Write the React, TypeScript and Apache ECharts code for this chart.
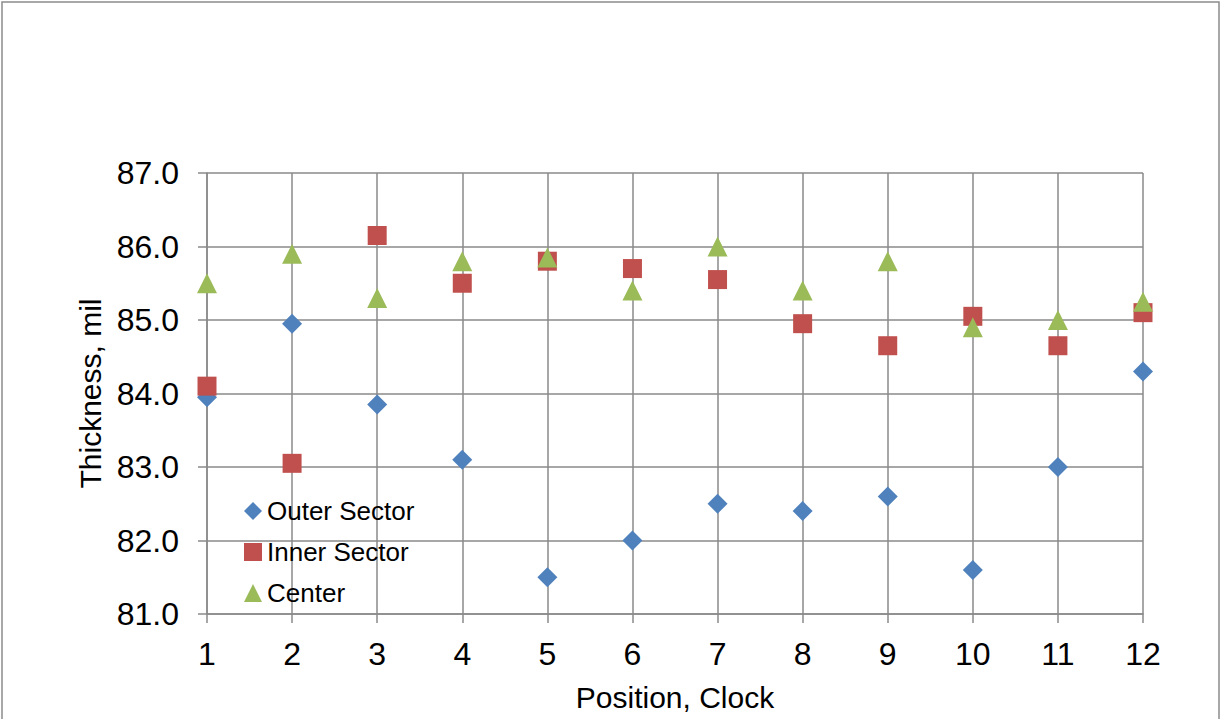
import React, { useEffect, useRef } from "react";
import * as echarts from "echarts";

const positions = [1, 2, 3, 4, 5, 6, 7, 8, 9, 10, 11, 12];
const outerSector = [83.95, 84.95, 83.85, 83.1, 81.5, 82.0, 82.5, 82.4, 82.6, 81.6, 83.0, 84.3];
const innerSector = [84.1, 83.05, 86.15, 85.5, 85.8, 85.7, 85.55, 84.95, 84.65, 85.05, 84.65, 85.1];
const center = [85.5, 85.9, 85.3, 85.8, 85.85, 85.4, 86.0, 85.4, 85.8, 84.9, 85.0, 85.25];
const seriesNames = ["Outer Sector", "Inner Sector", "Center"];

const FONT = "'Liberation Sans', Arial, sans-serif";
const GRID = "#8a8a8a";

export default function App() {
  const ref = useRef<HTMLDivElement>(null);
  useEffect(() => {
    if (!ref.current) return;
    const chart = echarts.init(ref.current, undefined, { renderer: "svg" });
    const pts = (vals: number[]) => positions.map((p, i) => [p, vals[i]]);
    chart.setOption({
      animation: false,
      backgroundColor: "#ffffff",
      textStyle: { fontFamily: FONT },
      graphic: [
        {
          type: "rect",
          shape: { x: 2, y: 2, width: 1217, height: 730 },
          style: { fill: "none", stroke: "#8c8c8c", lineWidth: 1.5 },
          silent: true,
        },
      ],
      grid: { left: 207, right: 82, top: 173, bottom: 105 },
      legend: {
        orient: "vertical",
        left: 239,
        top: 493,
        itemWidth: 18,
        itemHeight: 18,
        itemGap: 15,
        data: seriesNames,
        textStyle: { fontFamily: FONT, fontSize: 26, color: "#000" },
      },
      xAxis: {
        type: "value",
        min: 1,
        max: 12,
        interval: 1,
        name: "Position, Clock",
        nameLocation: "middle",
        nameGap: 68,
        nameTextStyle: { fontFamily: FONT, fontSize: 30, color: "#000" },
        axisLine: { show: true, lineStyle: { color: GRID, width: 1.5 } },
        axisTick: { show: true, length: 9, lineStyle: { color: GRID, width: 1.5 } },
        axisLabel: { fontFamily: FONT, fontSize: 32, color: "#000", margin: 24 },
        splitLine: { show: true, lineStyle: { color: GRID, width: 1.5 } },
      },
      yAxis: {
        type: "value",
        min: 81,
        max: 87,
        interval: 1,
        name: "Thickness, mil",
        nameLocation: "middle",
        nameGap: 100,
        nameTextStyle: { fontFamily: FONT, fontSize: 30, color: "#000" },
        axisLine: { show: true, lineStyle: { color: GRID, width: 1.5 } },
        axisTick: { show: true, length: 9, lineStyle: { color: GRID, width: 1.5 } },
        axisLabel: {
          fontFamily: FONT,
          fontSize: 32,
          color: "#000",
          margin: 28,
          formatter: (v: number) => v.toFixed(1),
        },
        splitLine: { show: true, lineStyle: { color: GRID, width: 1.5 } },
      },
      series: [
        {
          name: seriesNames[0],
          type: "scatter",
          symbol: "diamond",
          symbolSize: 20,
          itemStyle: { color: "#4F81BD", opacity: 1 },
          data: pts(outerSector),
        },
        {
          name: seriesNames[1],
          type: "scatter",
          symbol: "rect",
          symbolSize: 19,
          itemStyle: { color: "#C0504D", opacity: 1 },
          data: pts(innerSector),
        },
        {
          name: seriesNames[2],
          type: "scatter",
          symbol: "triangle",
          symbolSize: 20,
          itemStyle: { color: "#9BBB59", opacity: 1 },
          data: pts(center),
        },
      ],
    });
    return () => chart.dispose();
  }, []);
  return (
    <div
      ref={ref}
      style={{ position: "fixed", left: 0, top: 0, width: 1225, height: 719 }}
    />
  );
}
